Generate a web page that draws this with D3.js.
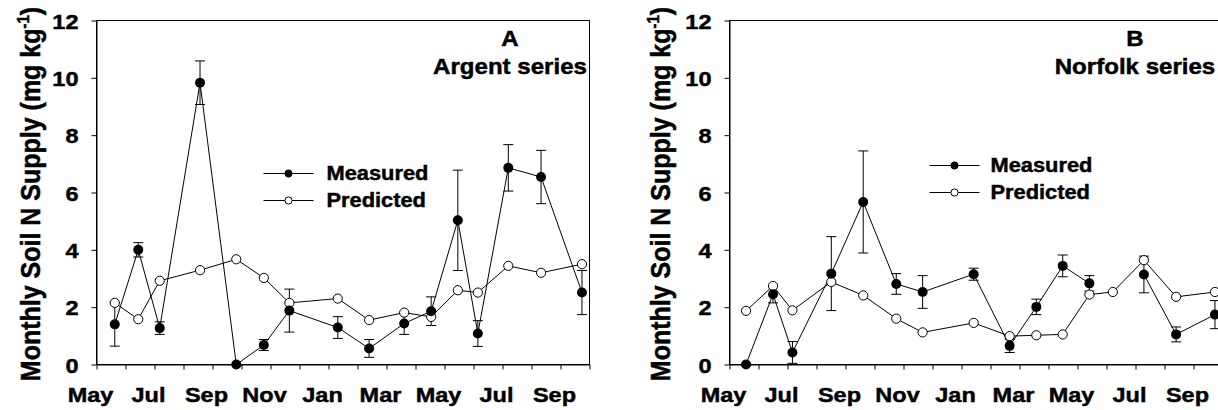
<!DOCTYPE html>
<html>
<head>
<meta charset="utf-8">
<script src="https://cdn.jsdelivr.net/npm/d3@7"></script>
<style>
  html, body { margin: 0; padding: 0; background: #fff; }
  svg { display: block; }
  text { font-family: "Liberation Sans", Arial, sans-serif; font-weight: bold; fill: #000;
         stroke: #000; stroke-width: 0.45px; }
</style>
</head>
<body>
<svg id="chart" width="1218" height="410"></svg>
<script>
// Time axis: months elapsed since 1 May of the first season
const monthTicks = d3.range(0, 18);
const monthLabels = ["May", "Jul", "Sep", "Nov", "Jan", "Mar", "May", "Jul", "Sep"];
const yTicks = [0, 2, 4, 6, 8, 10, 12];
const seriesNames = ["Measured", "Predicted"];

// Argent series (panel A)
const argentTimes     = [0.63, 1.44, 2.18, 3.57, 4.82, 5.77, 6.65, 8.32, 9.40, 10.61, 11.54, 12.46, 13.15, 14.20, 15.33, 16.74];
const argentMeasured  = [1.40, 4.00, 1.27, 9.83, 0.00, 0.68, 1.88, 1.29, 0.56, 1.43, 1.86, 5.03, 1.08, 6.86, 6.54, 2.51];
const argentError     = [0.76, 0.25, 0.22, 0.76, 0.00, 0.19, 0.75, 0.38, 0.31, 0.38, 0.50, 1.75, 0.45, 0.81, 0.93, 0.77];
const argentPredicted = [2.15, 1.58, 2.92, 3.29, 3.67, 3.02, 2.15, 2.30, 1.55, 1.81, 1.66, 2.59, 2.51, 3.44, 3.20, 3.50];

// Norfolk series (panel B); no measurement at the 13th sampling
const norfolkTimes     = [0.57, 1.50, 2.17, 3.51, 4.61, 5.75, 6.66, 8.42, 9.66, 10.58, 11.49, 12.41, 13.22, 14.29, 15.40, 16.74];
const norfolkMeasured  = [0.00, 2.45, 0.42, 3.17, 5.67, 2.81, 2.53, 3.15, 0.65, 2.01, 3.44, 2.83, null, 3.14, 1.05, 1.74];
const norfolkError     = [0.00, 0.30, 0.38, 1.29, 1.78, 0.36, 0.57, 0.21, 0.23, 0.27, 0.38, 0.27, null, 0.64, 0.26, 0.49];
const norfolkPredicted = [1.87, 2.74, 1.89, 2.88, 2.41, 1.60, 1.12, 1.45, 0.99, 1.02, 1.05, 2.44, 2.53, 3.64, 2.36, 2.53];

// Layout
const SX = 1.12;            // horizontal stretch applied to all lettering
const TOP = 20.5, BOTTOM = 364.5, WIDTH = 493;
const panels = [
  { letter: "A", name: "Argent series", times: argentTimes, measured: argentMeasured,
    error: argentError, predicted: argentPredicted,
    left: 96.5, yLabelX: 39.5, legend: { x: 263.5, y: 173.5, textX: 326.5 }, titleX: 510 },
  { letter: "B", name: "Norfolk series", times: norfolkTimes, measured: norfolkMeasured,
    error: norfolkError, predicted: norfolkPredicted,
    left: 729.5, yLabelX: 669.5, legend: { x: 929.5, y: 165.5, textX: 990.5 }, titleX: 1135 }
];

const svg = d3.select("#chart");

function label(g, x, y, str, size, anchor) {
  return g.append("text")
    .attr("transform", `translate(${x},${y}) scale(${SX},1)`)
    .attr("text-anchor", anchor)
    .style("font-size", size + "px")
    .text(str);
}

panels.forEach(p => {
  const g = svg.append("g");
  const x = d3.scaleLinear().domain([0, 17]).range([p.left, p.left + WIDTH]);
  const y = d3.scaleLinear().domain([0, 12]).range([BOTTOM, TOP]);

  // x axis
  const gx = g.append("g").attr("transform", `translate(0,${BOTTOM})`)
    .call(d3.axisBottom(x).tickValues(monthTicks).tickSize(5).tickSizeOuter(0)
      .tickFormat(m => m % 2 === 0 ? monthLabels[m / 2] : ""));
  gx.attr("font-family", null).attr("font-size", null);
  gx.selectAll(".tick text")
    .attr("y", 0).attr("dy", 0)
    .attr("transform", `translate(-6.5,37) scale(${SX},1)`)
    .style("font-size", "21px");

  // y axis
  const gy = g.append("g").attr("transform", `translate(${p.left},0)`)
    .call(d3.axisLeft(y).tickValues(yTicks).tickSize(5).tickSizeOuter(0));
  gy.attr("font-family", null).attr("font-size", null);
  gy.selectAll(".tick text")
    .attr("x", 0).attr("dy", "0.36em")
    .attr("transform", `translate(-18,0) scale(${SX},1)`)
    .style("font-size", "21px");

  // frame
  g.append("rect")
    .attr("x", p.left).attr("y", TOP)
    .attr("width", WIDTH).attr("height", BOTTOM - TOP)
    .attr("fill", "none").attr("stroke", "#000").attr("stroke-width", 1);

  // y-axis title
  const yl = g.append("text")
    .attr("transform", `translate(${p.yLabelX},194) rotate(-90) scale(1,${SX})`)
    .attr("text-anchor", "middle")
    .style("font-size", "25px");
  yl.append("tspan").text("Monthly Soil N Supply (mg kg");
  yl.append("tspan").attr("dy", -9).style("font-size", "15px").text("-1");
  yl.append("tspan").attr("dy", 9).text(")");

  // panel title
  label(g, p.titleX, 45.5, p.letter, 21.5, "middle");
  label(g, p.titleX, 74, p.name, 21.5, "middle");

  const meas = p.times.map((t, i) => ({ t, v: p.measured[i], e: p.error[i] }));
  const pred = p.times.map((t, i) => ({ t, v: p.predicted[i] }));
  const line = d3.line().defined(d => d.v != null).x(d => x(d.t)).y(d => y(d.v));

  // error bars on measured values
  const bars = g.append("g").attr("stroke", "#000").attr("stroke-width", 1);
  meas.filter(d => d.v != null && d.e > 0).forEach(d => {
    const cx = x(d.t), hi = y(d.v + d.e), lo = y(Math.max(0, d.v - d.e));
    bars.append("line").attr("x1", cx).attr("x2", cx).attr("y1", hi).attr("y2", lo);
    bars.append("line").attr("x1", cx - 5).attr("x2", cx + 5).attr("y1", hi).attr("y2", hi);
    bars.append("line").attr("x1", cx - 5).attr("x2", cx + 5).attr("y1", lo).attr("y2", lo);
  });

  // connecting lines
  g.append("path").datum(pred).attr("d", line)
    .attr("fill", "none").attr("stroke", "#000").attr("stroke-width", 1);
  g.append("path").datum(meas).attr("d", line)
    .attr("fill", "none").attr("stroke", "#000").attr("stroke-width", 1);

  // markers
  g.append("g").selectAll("circle").data(pred).join("circle")
    .attr("cx", d => x(d.t)).attr("cy", d => y(d.v)).attr("r", 4.6)
    .attr("fill", "#fff").attr("stroke", "#000").attr("stroke-width", 1);
  g.append("g").selectAll("circle").data(meas.filter(d => d.v != null)).join("circle")
    .attr("cx", d => x(d.t)).attr("cy", d => y(d.v)).attr("r", 5)
    .attr("fill", "#000");

  // legend
  const lg = g.append("g");
  seriesNames.forEach((name, i) => {
    const ly = p.legend.y + i * 27;
    lg.append("line").attr("x1", p.legend.x).attr("x2", p.legend.x + 50)
      .attr("y1", ly).attr("y2", ly).attr("stroke", "#000").attr("stroke-width", 1);
    lg.append("circle").attr("cx", p.legend.x + 25).attr("cy", ly).attr("r", 3.6)
      .attr("fill", i === 0 ? "#000" : "#fff").attr("stroke", "#000").attr("stroke-width", 1);
    label(lg, p.legend.textX, ly + 6.5, name, 19.5, "start");
  });
});
</script>
</body>
</html>
